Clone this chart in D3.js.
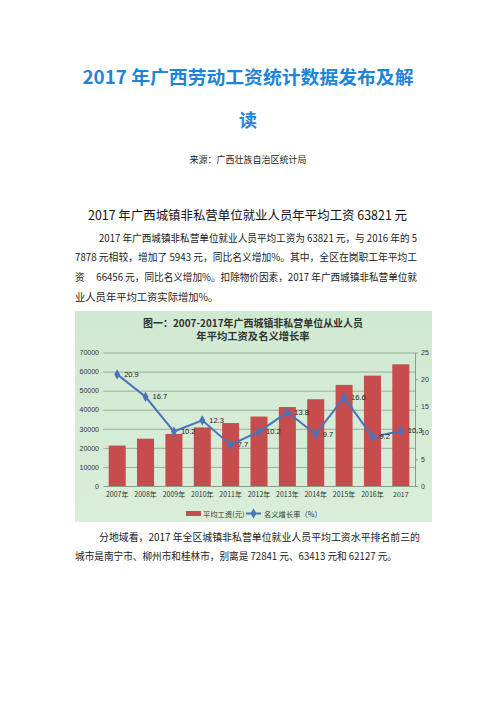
<!DOCTYPE html>
<html>
<head>
<meta charset="utf-8">
<script src="https://cdn.jsdelivr.net/npm/d3@7"></script>
<style>
html,body{margin:0;padding:0;background:#fff;}
svg{display:block;}
</style>
</head>
<body>
<script>
var W = 496, H = 702;
var years = ["2007年","2008年","2009年","2010年","2011年","2012年","2013年","2014年","2015年","2016年","2017"];
var wages = [21200, 24800, 27300, 30700, 33000, 36400, 41400, 45500, 53000, 57878, 63821];
var rates = [20.9, 16.7, 10.2, 12.3, 7.7, 10.2, 13.8, 9.7, 16.6, 9.2, 10.3];
var leftTicks = [0, 10000, 20000, 30000, 40000, 50000, 60000, 70000];
var rightTicks = [0, 5, 10, 15, 20, 25];
var seriesNames = ["平均工资(元)", "名义增长率（%）"];

var cjk = "'Noto Sans CJK SC', 'Noto Sans', sans-serif";
var num = "'Liberation Sans', 'Noto Sans CJK SC', sans-serif";

var svg = d3.select("body").append("svg")
	.attr("width", W)
	.attr("height", H);
svg.append("rect").attr("width", W).attr("height", H).attr("fill", "#fff");

//page title
svg.append("text")
	.text("2017 年广西劳动工资统计数据发布及解")
	.attr("x", 248).attr("y", 84)
	.attr("text-anchor", "middle")
	.attr("font-family", cjk).attr("font-weight", "bold")
	.attr("font-size", 18).attr("fill", "#1e84d8")
	.attr("textLength", 331).attr("lengthAdjust", "spacingAndGlyphs");
svg.append("text")
	.text("读")
	.attr("x", 248).attr("y", 127)
	.attr("text-anchor", "middle")
	.attr("font-family", cjk).attr("font-weight", "bold")
	.attr("font-size", 18).attr("fill", "#1e84d8");
svg.append("text")
	.text("来源：广西壮族自治区统计局")
	.attr("x", 248).attr("y", 163)
	.attr("text-anchor", "middle")
	.attr("font-family", cjk)
	.attr("font-size", 9).attr("fill", "#222");

//heading
svg.append("text")
	.text("2017 年广西城镇非私营单位就业人员年平均工资 63821 元")
	.attr("x", 88).attr("y", 219.5)
	.attr("font-family", cjk)
	.attr("font-size", 12.5).attr("fill", "#111")
	.attr("textLength", 319).attr("lengthAdjust", "spacingAndGlyphs");

//paragraph
var para = [
	{t: "2017 年广西城镇非私营单位就业人员平均工资为 63821 元，与 2016 年的 5", x: 99, y: 241.5, w: 318},
	{t: "7878 元相较，增加了 5943 元，同比名义增加%。其中，全区在岗职工年平均工", x: 75, y: 260.5, w: 342},
	{t: "资　 66456 元，同比名义增加%。扣除物价因素，2017 年广西城镇非私营单位就", x: 75, y: 280.5, w: 342},
	{t: "业人员年平均工资实际增加%。", x: 75, y: 300.5, w: 0},
	{t: "分地域看，2017 年全区城镇非私营单位就业人员平均工资水平排名前三的", x: 99, y: 540.5, w: 321},
	{t: "城市是南宁市、柳州市和桂林市，别离是 72841 元、63413 元和 62127 元。", x: 75, y: 559.5, w: 322}
];
para.forEach(function(p){
	var t = svg.append("text")
		.text(p.t)
		.attr("x", p.x).attr("y", p.y)
		.attr("font-family", cjk)
		.attr("font-size", 10.3).attr("fill", "#222");
	if(p.w > 0){ t.attr("textLength", p.w).attr("lengthAdjust", "spacingAndGlyphs"); }
});

//chart box
var grad = svg.append("defs").append("linearGradient")
	.attr("id", "bg").attr("x1", 0).attr("y1", 0).attr("x2", 0).attr("y2", 1);
grad.append("stop").attr("offset", "0%").attr("stop-color", "#d0e9d1");
grad.append("stop").attr("offset", "100%").attr("stop-color", "#d9eed9");
svg.append("rect")
	.attr("x", 75).attr("y", 311)
	.attr("width", 357).attr("height", 211)
	.attr("fill", "url(#bg)");

var chart = svg.append("g");
chart.append("text")
	.text("图一：2007-2017年广西城镇非私营单位从业人员")
	.attr("x", 253).attr("y", 326.5)
	.attr("text-anchor", "middle")
	.attr("font-family", cjk).attr("font-weight", "bold")
	.attr("font-size", 10.5).attr("fill", "#333")
	.attr("textLength", 220).attr("lengthAdjust", "spacingAndGlyphs");
chart.append("text")
	.text("年平均工资及名义增长率")
	.attr("x", 253).attr("y", 340)
	.attr("text-anchor", "middle")
	.attr("font-family", cjk).attr("font-weight", "bold")
	.attr("font-size", 10.3).attr("fill", "#333");

var plot = {left: 103, right: 415, top: 352.5, bottom: 486};
var x = d3.scaleBand().domain(years).range([plot.left, plot.right]).paddingInner(0.4).paddingOuter(0.2);
var yL = d3.scaleLinear().domain([0, 70000]).range([plot.bottom, plot.top]);
var yR = d3.scaleLinear().domain([0, 25]).range([plot.bottom, plot.top]);

//grid + left labels
var gl = chart.append("g")
	.attr("transform", "translate(" + plot.left + ",0)")
	.call(d3.axisLeft(yL).tickValues(leftTicks).tickSize(-(plot.right - plot.left)).tickPadding(4).tickFormat(d3.format("d")));
gl.select(".domain").remove();
gl.selectAll(".tick line").attr("stroke", "#8d9c8d").attr("stroke-width", 0.8);
gl.selectAll(".tick text").attr("font-family", num).attr("font-size", 7).attr("fill", "#333");

//bars
chart.append("g").selectAll("rect").data(wages).enter().append("rect")
	.attr("x", function(d, i){ return x(years[i]); })
	.attr("y", function(d){ return yL(d); })
	.attr("width", x.bandwidth())
	.attr("height", function(d){ return plot.bottom - yL(d); })
	.attr("fill", "#c74c4e");

//bottom axis
var gx = chart.append("g")
	.attr("transform", "translate(0," + plot.bottom + ")")
	.call(d3.axisBottom(x).tickSize(0).tickPadding(6));
gx.select(".domain").attr("stroke", "#8d9c8d");
gx.selectAll(".tick text").attr("font-family", cjk).attr("font-size", 7).attr("fill", "#333");

//right axis
var gr = chart.append("g")
	.attr("transform", "translate(" + plot.right + ",0)")
	.call(d3.axisRight(yR).tickValues(rightTicks).tickSize(3).tickSizeOuter(0).tickPadding(3));
gr.select(".domain").attr("stroke", "#8d9c8d");
gr.selectAll(".tick line").attr("stroke", "#8d9c8d");
gr.selectAll(".tick text").attr("font-family", num).attr("font-size", 7).attr("fill", "#333");

//line
var cx = function(d, i){ return x(years[i]) + x.bandwidth() / 2; };
var line = d3.line().x(cx).y(function(d){ return yR(d); });
chart.append("path")
	.datum(rates)
	.attr("d", line)
	.attr("fill", "none")
	.attr("stroke", "#4a73b9")
	.attr("stroke-width", 2);
var diamond = d3.symbol().type(d3.symbolDiamond).size(30);
chart.append("g").selectAll("path").data(rates).enter().append("path")
	.attr("d", diamond)
	.attr("transform", function(d, i){ return "translate(" + cx(d, i) + "," + yR(d) + ")"; })
	.attr("fill", "#4a73b9");
chart.append("g").selectAll("text").data(rates).enter().append("text")
	.text(function(d){ return d3.format(".1f")(d); })
	.attr("x", function(d, i){ return cx(d, i) + 7; })
	.attr("y", function(d){ return yR(d) + 2.5; })
	.attr("font-family", num).attr("font-size", 7.5).attr("fill", "#222");

//legend
var lg = chart.append("g");
lg.append("rect").attr("x", 186).attr("y", 511).attr("width", 15).attr("height", 5).attr("fill", "#c74c4e");
lg.append("text").text(seriesNames[0]).attr("x", 203).attr("y", 516.5)
	.attr("font-family", cjk).attr("font-size", 7.3).attr("fill", "#333");
lg.append("line").attr("x1", 246).attr("x2", 261).attr("y1", 513.5).attr("y2", 513.5)
	.attr("stroke", "#4a73b9").attr("stroke-width", 2);
lg.append("path").attr("d", diamond).attr("transform", "translate(253.5,513.5)").attr("fill", "#4a73b9");
lg.append("text").text(seriesNames[1]).attr("x", 264).attr("y", 516.5)
	.attr("font-family", cjk).attr("font-size", 7.3).attr("fill", "#333");
</script>
</body>
</html>
